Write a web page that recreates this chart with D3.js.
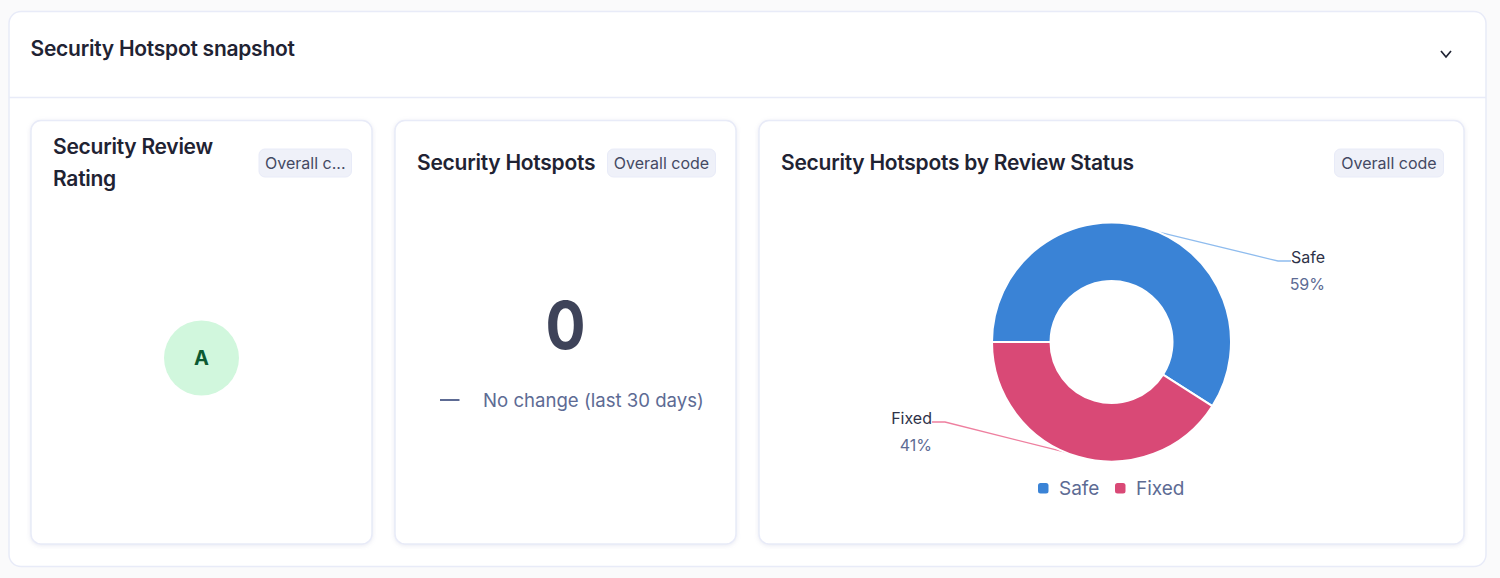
<!DOCTYPE html>
<html>
<head>
<meta charset="utf-8">
<script src="https://cdn.jsdelivr.net/npm/d3@7"></script>
<style>
  html, body { margin: 0; padding: 0; background: #fafafb; }
  svg { display: block; }
  text { font-family: Inter, "Noto Sans", sans-serif; }
  .title { font-weight: 600; font-size: 21px; letter-spacing: -0.26px; fill: #1f2333; }
  .badge-text { font-size: 16px; fill: #444963; }
  .label-name { font-size: 16px; fill: #2e3248; }
  .label-value { font-size: 16px; fill: #5d6b94; }
  .card { filter: drop-shadow(0 1px 2px rgba(90, 100, 160, 0.14)); }
</style>
</head>
<body>
<div id="chart"></div>
<script>
const width = 1500;
const height = 578;

// review status breakdown
const statuses = ['Safe', 'Fixed'];
const shares = [59, 41];
const statusColors = ['#3a83d6', '#d94976'];
const leaderColors = ['#8fbcee', '#ee7f9f'];

// single value cards
const hotspotCount = 0;
const changeText = 'No change (last 30 days)';
const rating = 'A';

const svg = d3.select('#chart').append('svg')
  .attr('width', width)
  .attr('height', height);

// outer panel
svg.append('rect')
  .attr('x', 9).attr('y', 11.5)
  .attr('width', 1477).attr('height', 555)
  .attr('rx', 12)
  .attr('fill', '#fff')
  .attr('stroke', '#e8ebf8')
  .attr('stroke-width', 1.5);
svg.append('line')
  .attr('x1', 9).attr('x2', 1486)
  .attr('y1', 97.5).attr('y2', 97.5)
  .attr('stroke', '#e8ebf8')
  .attr('stroke-width', 1.5);
svg.append('text').attr('class', 'title')
  .attr('x', 30.5).attr('y', 56)
  .text('Security Hotspot snapshot');
svg.append('path')
  .attr('d', 'M1441 51 L1446 57 L1451 51')
  .attr('fill', 'none')
  .attr('stroke', '#1f2333')
  .attr('stroke-width', 1.7);

// cards
const cards = [
  {x: 31, w: 341},
  {x: 395, w: 341},
  {x: 759, w: 705}
];
svg.append('g').selectAll('rect')
  .data(cards)
  .join('rect')
    .attr('class', 'card')
    .attr('x', d => d.x)
    .attr('y', 120.5)
    .attr('width', d => d.w)
    .attr('height', 423.5)
    .attr('rx', 10)
    .attr('fill', '#fff')
    .attr('stroke', '#e8ebf8')
    .attr('stroke-width', 1.5);

// card titles
svg.append('text').attr('class', 'title').attr('x', 53).attr('y', 154).text('Security Review');
svg.append('text').attr('class', 'title').attr('x', 53).attr('y', 186).text('Rating');
svg.append('text').attr('class', 'title').attr('x', 417).attr('y', 170).text('Security Hotspots');
svg.append('text').attr('class', 'title').attr('x', 781).attr('y', 170).text('Security Hotspots by Review Status');

// badges
const badges = [
  {x: 259, w: 92.5, label: 'Overall c...'},
  {x: 607.5, w: 108, label: 'Overall code'},
  {x: 1334.5, w: 109, label: 'Overall code'}
];
const badge = svg.append('g').selectAll('g')
  .data(badges)
  .join('g');
badge.append('rect')
  .attr('x', d => d.x)
  .attr('y', 149)
  .attr('width', d => d.w)
  .attr('height', 28)
  .attr('rx', 6)
  .attr('fill', '#eff1f9')
  .attr('stroke', '#e8ebf8');
badge.append('text')
  .attr('class', 'badge-text')
  .attr('x', d => d.x + d.w / 2)
  .attr('y', 168.5)
  .attr('text-anchor', 'middle')
  .text(d => d.label);

// rating bubble
svg.append('circle')
  .attr('cx', 201.5).attr('cy', 358).attr('r', 37.5)
  .attr('fill', '#d1f7dd');
svg.append('text')
  .attr('x', 201.5).attr('y', 365)
  .attr('text-anchor', 'middle')
  .attr('font-size', 20)
  .attr('font-weight', 700)
  .attr('fill', '#0c5a32')
  .text(rating);

// hotspot count, squeezed a bit to the reference's narrower zero
svg.append('text')
  .attr('transform', 'translate(565.5,349) scale(0.9,1)')
  .attr('text-anchor', 'middle')
  .attr('font-size', 66)
  .attr('font-weight', 700)
  .attr('fill', '#3e4359')
  .text(hotspotCount);
svg.append('line')
  .attr('x1', 440).attr('x2', 459.5)
  .attr('y1', 400).attr('y2', 400)
  .attr('stroke', '#5d6b94')
  .attr('stroke-width', 2);
svg.append('text')
  .attr('x', 483).attr('y', 407)
  .attr('font-size', 18.6)
  .attr('fill', '#5d6b94')
  .text(changeText);

// donut
const cx = 1111.5;
const cy = 342;
const outerR = 119.5;
const innerR = 61;

const rows = statuses.map((s, i) => ({status: s, share: shares[i], color: statusColors[i], leader: leaderColors[i]}));
const pie = d3.pie()
  .value(d => d.share)
  .sort(null)
  .startAngle(1.5 * Math.PI)
  .endAngle(3.5 * Math.PI);
const arc = d3.arc().innerRadius(innerR).outerRadius(outerR);
const arcs = pie(rows);

const donut = svg.append('g').attr('transform', `translate(${cx},${cy})`);

// leader lines start a little past the slice's mid angle
const leaderTurn = 0.115;
const leaders = arcs.map(d => {
  const mid = (d.startAngle + d.endAngle) / 2 + leaderTurn;
  const start = d3.pointRadial(mid, outerR);
  const side = start[0] >= 0 ? 1 : -1;
  const knee = [side * 166.5, start[1] > 0 ? 80 : -81];
  const end = [side * 179.5, knee[1]];
  return {d, side, pts: [start, knee, end]};
});

donut.selectAll('path.leader')
  .data(leaders)
  .join('path')
    .attr('class', 'leader')
    .attr('d', l => d3.line()(l.pts))
    .attr('fill', 'none')
    .attr('stroke', l => l.d.data.leader)
    .attr('stroke-width', 1.3);

donut.selectAll('path.slice')
  .data(arcs)
  .join('path')
    .attr('class', 'slice')
    .attr('d', arc)
    .attr('fill', d => d.data.color)
    .attr('stroke', '#fff')
    .attr('stroke-width', 2);

const labels = donut.selectAll('g.label')
  .data(leaders)
  .join('g')
    .attr('class', 'label')
    .attr('text-anchor', 'end')
    .attr('transform', l => l.side > 0
      ? `translate(${l.pts[2][0] + 34},${l.pts[2][1]})`
      : `translate(${l.pts[2][0]},${l.pts[2][1]})`);
labels.append('text')
  .attr('class', 'label-name')
  .attr('y', -3)
  .attr('dy', '0.3em')
  .text(l => l.d.data.status);
labels.append('text')
  .attr('class', 'label-value')
  .attr('y', 24)
  .attr('dy', '0.3em')
  .text(l => l.d.data.share + '%');

// legend
const legendX = [1038, 1115];
const legend = svg.append('g').selectAll('g')
  .data(rows)
  .join('g')
    .attr('transform', (d, i) => `translate(${legendX[i]},488)`);
legend.append('rect')
  .attr('x', 0).attr('y', -5)
  .attr('width', 10.5).attr('height', 10.5)
  .attr('rx', 2.5)
  .attr('fill', d => d.color);
legend.append('text')
  .attr('x', 21).attr('y', 7)
  .attr('font-size', 19)
  .attr('fill', '#5d6b94')
  .text(d => d.status);
</script>
</body>
</html>
